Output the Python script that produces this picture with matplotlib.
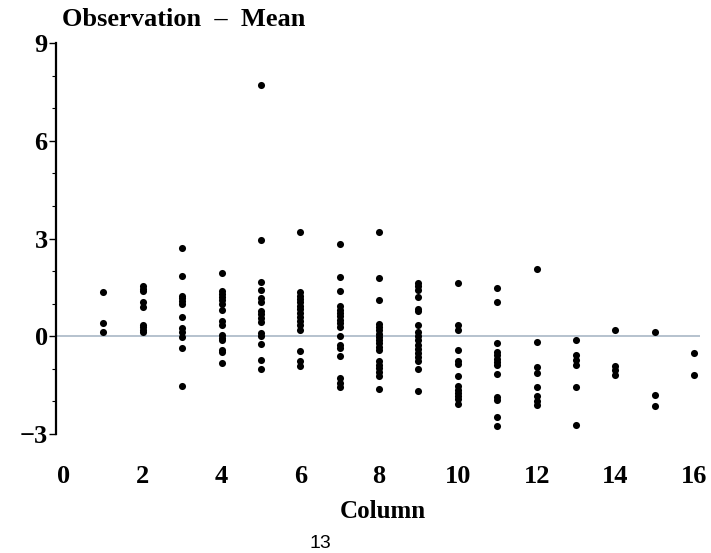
import numpy as np
from matplotlib import pyplot as plt

# observation - mean
col_values = {
    1: [1.37, 0.41, 0.14],
    2: [1.53, 1.45, 1.38, 1.04, 0.90, 0.36, 0.29, 0.20, 0.13],
    3: [2.72, 1.84, 1.25, 1.17, 1.08, 1.00, 0.59, 0.26, 0.12, -0.02, -0.35, -1.52],
    4: [1.94, 1.40, 1.31, 1.21, 1.10, 0.99, 0.82, 0.46, 0.35, 0.05, -0.04, -0.12,
        -0.41, -0.49, -0.82],
    5: [7.70, 2.94, 1.68, 1.41, 1.17, 1.06, 0.77, 0.67, 0.55, 0.43, 0.10, 0.02,
        -0.25, -0.72, -1.02],
    6: [3.21, 1.35, 1.25, 1.15, 1.04, 0.94, 0.84, 0.72, 0.59, 0.46, 0.33, 0.18,
        -0.46, -0.77, -0.92],
    7: [2.82, 1.82, 1.40, 0.92, 0.82, 0.72, 0.61, 0.51, 0.41, 0.29, 0.02, -0.27,
        -0.37, -0.61, -1.28, -1.43, -1.56],
    8: [3.20, 1.78, 1.10, 0.39, 0.29, 0.18, 0.08, -0.02, -0.12, -0.22, -0.33,
        -0.43, -0.77, -0.87, -0.97, -1.10, -1.23, -1.62],
    9: [1.64, 1.53, 1.43, 1.21, 0.84, 0.77, 0.33, 0.12, 0.00, -0.12, -0.26,
        -0.39, -0.51, -0.63, -0.77, -1.00, -1.69],
    10: [1.64, 0.33, 0.20, -0.41, -0.77, -0.84, -1.21, -1.53, -1.64, -1.74,
         -1.84, -1.94, -2.09],
    11: [1.49, 1.06, -0.22, -0.49, -0.59, -0.70, -0.80, -0.89, -1.16, -1.87,
         -1.97, -2.47, -2.76],
    12: [2.06, -0.19, -0.95, -1.12, -1.55, -1.84, -1.99, -2.12],
    13: [-0.10, -0.59, -0.72, -0.87, -1.55, -2.71],
    14: [0.19, -0.92, -1.04, -1.18],
    15: [0.14, -1.81, -2.13],
    16: [-0.51, -1.18],
}
x_ticks = [0, 2, 4, 6, 8, 10, 12, 14, 16]
y_ticks = [-3, 0, 3, 6, 9]

xs = np.concatenate([[c] * len(v) for c, v in col_values.items()])
ys = np.concatenate([v for v in col_values.values()])

serif = ['Liberation Serif', 'DejaVu Serif']

fig = plt.figure(figsize=(7.11, 5.53), dpi=100)
ax = fig.add_axes([0.0788, 0.2152, 0.906, 0.707])

ax.axhline(0, color='#a9b8c6', lw=1.2, zorder=1)
ax.scatter(xs, ys, s=26, color='black', zorder=2, linewidths=0)

ax.set_xlim(-0.2, 16.15)
ax.set_ylim(-3, 9)

for side in ['top', 'right', 'bottom']:
    ax.spines[side].set_visible(False)
ax.spines['left'].set_linewidth(1.6)

ax.set_xticks(x_ticks)
ax.set_yticks(y_ticks)
ax.set_yticks(np.arange(-3, 10, 1), minor=True)
ax.tick_params(axis='x', length=0, pad=22)
ax.tick_params(axis='y', which='major', length=5, width=1, pad=1)
ax.tick_params(axis='y', which='minor', length=3, width=0.8)
for lab in ax.get_xticklabels() + ax.get_yticklabels():
    lab.set_family(serif)
    lab.set_fontweight('bold')
    lab.set_fontsize(19)

fig.text(62 / 711, 1 - 20 / 553, 'Observation  \u2013  Mean', family=serif,
         fontweight='bold', fontsize=19, ha='left', va='center')
fig.text(383 / 711, 1 - 512 / 553, 'Column', family=serif,
         fontweight='bold', fontsize=18, ha='center', va='center')
fig.text(320 / 711, 1 - 543 / 553, '13', family='Liberation Sans',
         fontsize=14, ha='center', va='center')

fig.savefig('out.png', dpi=100)
